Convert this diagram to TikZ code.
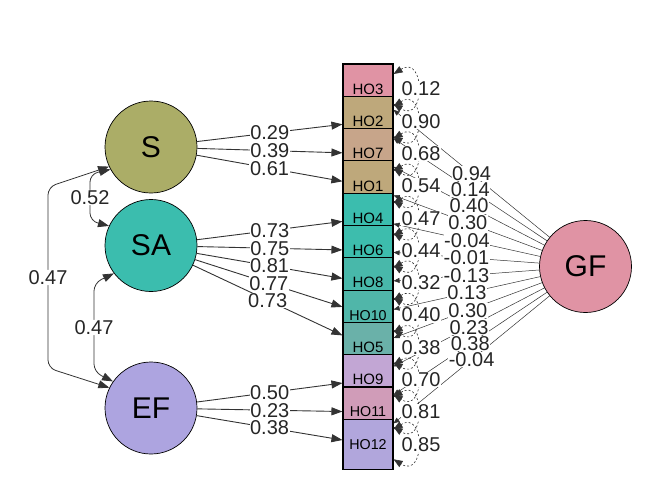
\documentclass[tikz,border=0pt]{standalone}
\usepackage{fontspec}
\setmainfont{Liberation Sans}
\usetikzlibrary{arrows.meta}
\definecolor{cS}{HTML}{ABAD67}
\definecolor{cSA}{HTML}{3BBDAE}
\definecolor{cEF}{HTML}{ADA4E0}
\definecolor{cGF}{HTML}{E093A4}
\definecolor{iHOiii}{HTML}{E093A4}
\definecolor{iHOii}{HTML}{BEA87B}
\definecolor{iHOvii}{HTML}{C7A58A}
\definecolor{iHOi}{HTML}{BEA87B}
\definecolor{iHOiv}{HTML}{3BBDAE}
\definecolor{iHOvi}{HTML}{3DBDAD}
\definecolor{iHOviii}{HTML}{48B8AA}
\definecolor{iHOx}{HTML}{50B6A9}
\definecolor{iHOv}{HTML}{6AB1A9}
\definecolor{iHOix}{HTML}{C2A6D4}
\definecolor{iHOxi}{HTML}{D09CB8}
\definecolor{iHOxii}{HTML}{B1A6DC}
\begin{document}
\begin{tikzpicture}[x=1pt,y=-1pt,
  lat/.style={circle,draw=black,line width=0.7pt,minimum size=92pt,inner sep=0pt,font=\fontsize{30}{30}\selectfont},
  man/.style={rectangle,draw=black,line width=1.1pt,minimum width=50pt,minimum height=50pt,inner sep=0pt},
  lab/.style={fill=white,inner sep=0.6pt,text=black!85,font=\fontsize{20}{20}\selectfont},
  load/.style={draw=black!80,line width=0.9pt,-{Triangle[length=11pt,width=8pt]}},
  gload/.style={draw=black!80,line width=0.5pt,-{Triangle[length=6pt,width=5pt]}},
  cov/.style={draw=black!80,line width=0.8pt,{Triangle[length=11pt,width=8pt]}-{Triangle[length=11pt,width=8pt]},rounded corners=8pt},
  res/.style={draw=black!80,line width=0.6pt,dash pattern=on 2pt off 2pt,{Triangle[length=9pt,width=7pt]}-{Triangle[length=9pt,width=7pt]}},
]
\useasboundingbox (0,0) rectangle (672,480);
% manifest items (drawn top to bottom, each covering the previous)
\foreach \n/\c/\y/\fs in {HO3/iHOiii/89/15,HO2/iHOii/121.3/15,HO7/iHOvii/153.6/15,HO1/iHOi/185.9/15,
  HO4/iHOiv/218.2/15,HO6/iHOvi/250.5/15,HO8/iHOviii/282.8/15,HO10/iHOx/315.1/14.3,
  HO5/iHOv/347.4/15,HO9/iHOix/379.7/15,HO11/iHOxi/412/14.3,HO12/iHOxii/444.3/14.3}
  \node[man,fill=\c,font=\fontsize{\fs}{\fs}\selectfont] (\n) at (368,\y) {\n};
% latent variables
\node[lat,fill=cS] (S) at (151,147) {S};
\node[lat,fill=cSA] (SA) at (151,245.5) {SA};
\node[lat,fill=cEF] (EF) at (151,408) {EF};
\node[lat,fill=cGF] (GF) at (585.5,266.5) {GF};
% loadings lines
\foreach \a/\b in {S/HO2,S/HO7,S/HO1,SA/HO4,SA/HO6,SA/HO8,SA/HO10,SA/HO5,EF/HO9,EF/HO11,EF/HO12}
  \draw[load] (\a) -- (\b);
\foreach \b in {HO3,HO2,HO7,HO1,HO4,HO6,HO8,HO10,HO5,HO9,HO11,HO12}
  \draw[gload] (GF) -- (\b);
% residual loops
\foreach \b in {HO3,HO2,HO7,HO1,HO4,HO6,HO8,HO10,HO5,HO9,HO11,HO12}
  \draw[res] ([yshift=15pt]\b.east) .. controls +(32,-20) and +(32,20) .. ([yshift=-15pt]\b.east);
% covariances
\draw[cov] (S.209) -- (90,174) -- node[lab] (c1) {0.52} (90,221) -- (SA.155);
\draw[cov] (S.205) -- (48,187) -- node[lab] (c2) {0.47} (48,368) -- (EF.154);
\draw[cov] (SA.217) -- (94,283) -- node[lab] (c3) {0.47} (94,372) -- (EF.145);
% loading labels
\foreach \a/\b/\v in {S/HO2/0.29,S/HO7/0.39,S/HO1/0.61,SA/HO4/0.73,SA/HO6/0.75,SA/HO8/0.81,SA/HO10/0.77,SA/HO5/0.73,EF/HO9/0.50,EF/HO11/0.23,EF/HO12/0.38}
  \path (\a) -- node[lab] (l\a\b) {\v} (\b);
\foreach \b/\v in {HO3/0.94,HO2/0.14,HO7/0.40,HO1/0.30,HO4/-0.04,HO6/-0.01,HO8/-0.13,HO10/0.13,HO5/0.30,HO9/0.23,HO11/0.38,HO12/-0.04}
  \path (GF) -- node[lab] (g\b) {\v} (\b);
% residual labels
\foreach \b/\v in {HO3/0.12,HO2/0.90,HO7/0.68,HO1/0.54,HO4/0.47,HO6/0.44,HO8/0.32,HO10/0.40,HO5/0.38,HO9/0.70,HO11/0.81,HO12/0.85}
  \node[lab] (r\b) at ([xshift=53pt]\b.center) {\v};
\end{tikzpicture}
\end{document}
